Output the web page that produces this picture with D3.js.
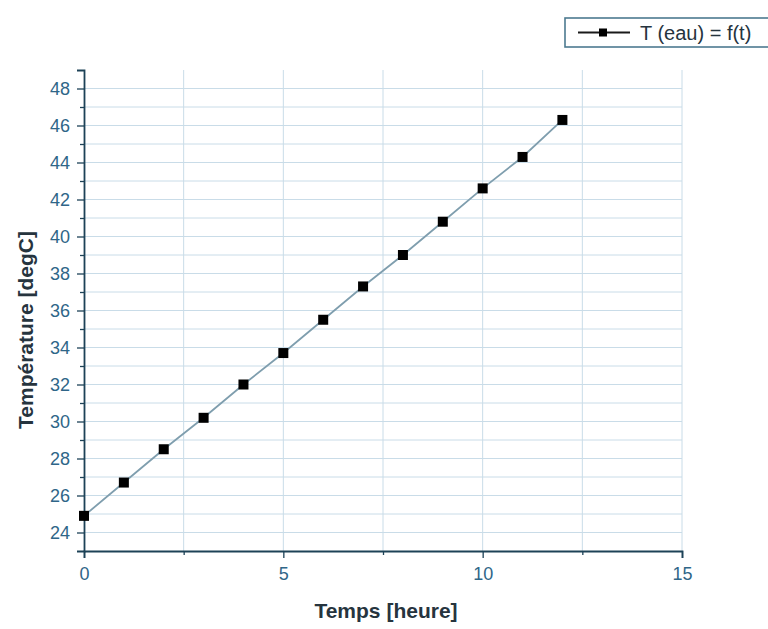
<!DOCTYPE html>
<html>
<head>
<meta charset="utf-8">
<script src="https://cdn.jsdelivr.net/npm/d3@7"></script>
<style>
  body { margin: 0; background: #fff; }
  svg { display: block; font-family: "Liberation Sans", Arial, sans-serif; }
</style>
</head>
<body>
<div id="container"></div>
<script>
// Chart data
const temps = [0, 1, 2, 3, 4, 5, 6, 7, 8, 9, 10, 11, 12];
const tempEau = [24.9, 26.7, 28.5, 30.2, 32.0, 33.7, 35.5, 37.3, 39.0, 40.8, 42.6, 44.3, 46.3];
const xTicks = [0, 5, 10, 15];
const yTicks = [24, 26, 28, 30, 32, 34, 36, 38, 40, 42, 44, 46, 48];
const legendLabel = "T (eau) = f(t)";

const width = 768;
const height = 629;
const axisColor = "#1d4257";
const tickTextColor = "#2f6688";
const gridColor = "#c9dce8";
const titleColor = "#26343e";

const svg = d3.select("#container")
    .append("svg")
    .attr("width", width)
    .attr("height", height);

// Scales
const x = d3.scaleLinear().domain([0, 15]).range([84, 682]);
const y = d3.scaleLinear().domain([23, 49]).range([551, 70]);

// Grid lines
const grid = svg.append("g");
grid.selectAll("line.v")
    .data(d3.range(2.5, 15.01, 2.5))
    .enter()
    .append("line")
    .attr("x1", d => x(d)).attr("x2", d => x(d))
    .attr("y1", y(49)).attr("y2", y(23))
    .attr("stroke", gridColor).attr("stroke-width", 1);
grid.selectAll("line.h")
    .data(d3.range(24, 49, 1))
    .enter()
    .append("line")
    .attr("x1", x(0)).attr("x2", x(15))
    .attr("y1", d => y(d)).attr("y2", d => y(d))
    .attr("stroke", gridColor).attr("stroke-width", 1);

// X axis
svg.append("g")
    .attr("transform", `translate(0,${y(23)})`)
    .call(d3.axisBottom(x).tickValues(xTicks).tickSize(7).tickPadding(9).tickFormat(d3.format("d")));
svg.append("g")
    .attr("transform", `translate(0,${y(23)})`)
    .call(d3.axisBottom(x).tickValues([2.5, 7.5, 12.5]).tickSize(4).tickFormat(""))
    .select(".domain").remove();

// Y axis
svg.append("g")
    .attr("transform", `translate(${x(0)},0)`)
    .call(d3.axisLeft(y).tickValues(yTicks).tickSize(7).tickPadding(7).tickFormat(d3.format("d")));
svg.append("g")
    .attr("transform", `translate(${x(0)},0)`)
    .call(d3.axisLeft(y).tickValues(d3.range(25, 49, 2)).tickSize(4).tickFormat(""))
    .select(".domain").remove();

svg.selectAll(".domain")
    .attr("stroke", axisColor)
    .attr("stroke-width", 1.8);
svg.selectAll(".tick line")
    .attr("stroke", axisColor)
    .attr("stroke-width", 1.3);
svg.selectAll(".tick text")
    .attr("fill", tickTextColor)
    .style("font-size", "18px")
    .style("font-family", "Liberation Sans, Arial, sans-serif");

// Axis titles
svg.append("text")
    .attr("x", 386)
    .attr("y", 618)
    .attr("text-anchor", "middle")
    .attr("fill", titleColor)
    .style("font-size", "21px")
    .style("font-weight", "bold")
    .text("Temps [heure]");

svg.append("text")
    .attr("transform", `translate(33,330) rotate(-90)`)
    .attr("text-anchor", "middle")
    .attr("fill", titleColor)
    .style("font-size", "21px")
    .style("font-weight", "bold")
    .text("Température [degC]");

// Line
const line = d3.line()
    .x((d, i) => x(temps[i]))
    .y(d => y(d));

svg.append("path")
    .datum(tempEau)
    .attr("fill", "none")
    .attr("stroke", "#7f9eae")
    .attr("stroke-width", 1.8)
    .attr("d", line);

// Markers
svg.append("g")
    .selectAll("rect")
    .data(tempEau)
    .enter()
    .append("rect")
    .attr("x", (d, i) => x(temps[i]) - 5)
    .attr("y", d => y(d) - 5)
    .attr("width", 10)
    .attr("height", 10)
    .attr("fill", "#000");

// Legend
const legend = svg.append("g").attr("transform", "translate(565,18)");
legend.append("rect")
    .attr("width", 210)
    .attr("height", 29)
    .attr("fill", "#fff")
    .attr("stroke", "#4d7a90")
    .attr("stroke-width", 1.6);
legend.append("line")
    .attr("x1", 13).attr("x2", 65)
    .attr("y1", 14.5).attr("y2", 14.5)
    .attr("stroke", "#1a1a1a").attr("stroke-width", 1.8);
legend.append("rect")
    .attr("x", 34).attr("y", 10.5)
    .attr("width", 8).attr("height", 8)
    .attr("fill", "#000");
legend.append("text")
    .attr("x", 75)
    .attr("y", 22)
    .attr("fill", titleColor)
    .style("font-size", "20px")
    .text(legendLabel);
</script>
</body>
</html>
